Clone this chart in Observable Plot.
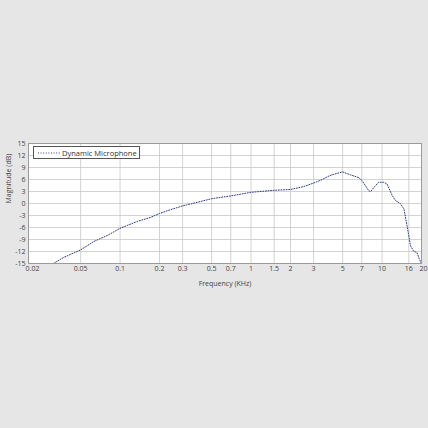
<!DOCTYPE html>
<html>
<head>
<meta charset="utf-8">
<script src="https://cdn.jsdelivr.net/npm/d3@7"></script>
<script src="https://cdn.jsdelivr.net/npm/@observablehq/plot@0.6"></script>
<style>
html, body { margin: 0; padding: 0; background: #e6e6e6; }
#wrap { position: relative; width: 428px; height: 428px; font-family: "Open Sans", sans-serif; }
#legend { position: absolute; left: 33px; top: 146px; width: 107px; height: 13px; border: 1px solid #555; background: #fff; box-sizing: border-box; font-size: 7.5px; color: #333; display: flex; align-items: center; }
#legend svg { margin-left: 4px; margin-right: 2px; }
</style>
</head>
<body>
<div id="wrap"></div>
<script>
const seriesName = "Dynamic Microphone";
const freq = [0.031, 0.037, 0.05, 0.063, 0.08, 0.1, 0.135, 0.17, 0.2, 0.24, 0.3, 0.4, 0.5, 0.7, 1, 1.5, 2, 2.5, 3, 3.5, 4, 4.5, 5, 5.7, 6.6, 7.05, 7.9, 8.2, 8.8, 9.4, 10.3, 10.9, 12.0, 12.7, 13.8, 14.7, 15.6, 16.5, 17.4, 18.5, 19.1, 19.8];
const magnitude = [-15, -13.5, -11.6, -9.5, -8.0, -6.2, -4.5, -3.5, -2.5, -1.6, -0.6, 0.4, 1.2, 1.9, 2.8, 3.3, 3.5, 4.2, 5.1, 6.0, 7.0, 7.5, 7.9, 7.2, 6.5, 5.7, 3.2, 3.0, 4.3, 5.3, 5.3, 4.9, 1.9, 0.7, 0.0, -1.4, -6.0, -10.6, -11.9, -12.3, -13.6, -14.8];
const xTicks = [0.02, 0.05, 0.1, 0.2, 0.3, 0.5, 0.7, 1, 1.5, 2, 3, 5, 7, 10, 16, 20];
const yTicks = [-15, -12, -9, -6, -3, 0, 3, 6, 9, 12, 15];
const xLabel = "Frequency (KHz)";
const yLabel = "Magnitude (dB)";

const data = freq.map((f, i) => ({f, m: magnitude[i]}));
const lineColor = "#2e3d86";
const inner = xTicks.slice(1, -1);

const chart = Plot.plot({
  width: 428,
  height: 428,
  marginLeft: 28,
  marginRight: 7,
  marginTop: 143,
  marginBottom: 165,
  style: {background: "transparent", fontFamily: "Open Sans, sans-serif", fontSize: "7px", color: "#444"},
  x: {type: "log", domain: [0.02, 20], label: null, axis: null},
  y: {domain: [-15, 15], label: null, axis: null},
  marks: [
    Plot.frame({fill: "white"}),
    Plot.gridX(xTicks, {stroke: "#c8c8c8", strokeOpacity: 1, strokeWidth: 0.8}),
    Plot.gridY(yTicks, {stroke: "#c8c8c8", strokeOpacity: 1, strokeWidth: 0.8}),
    Plot.frame({stroke: "#9a9a9a", strokeWidth: 1}),
    Plot.text(inner, {x: d => d, frameAnchor: "bottom", dy: 7, text: d => String(d), fontSize: 7, fill: "#444"}),
    Plot.text(xTicks.slice(0, 1), {x: d => d, frameAnchor: "bottom", dy: 7, dx: 4, text: d => String(d), fontSize: 7, fill: "#444"}),
    Plot.text(xTicks.slice(-1), {x: d => d, frameAnchor: "bottom", dy: 7, dx: 2, text: d => String(d), fontSize: 7, fill: "#444"}),
    Plot.text(yTicks, {y: d => d, frameAnchor: "left", dx: -3, textAnchor: "end", text: d => String(d), fontSize: 7, fill: "#444"}),
    Plot.line(data, {x: "f", y: "m", stroke: lineColor, strokeWidth: 1, strokeDasharray: "1,1.6", clip: true}),
    Plot.text([xLabel], {frameAnchor: "bottom", dy: 22, text: d => d, fontSize: 7, fill: "#444"}),
    Plot.text([yLabel], {frameAnchor: "left", dx: -20, rotate: -90, text: d => d, fontSize: 7, fill: "#444"})
  ]
});

const wrap = document.getElementById("wrap");
wrap.appendChild(chart);
const legend = document.createElement("div");
legend.id = "legend";
legend.innerHTML = `<svg width="22" height="4"><line x1="0" y1="2" x2="22" y2="2" stroke="${lineColor}" stroke-width="1" stroke-dasharray="1,1.6"/></svg><span>${seriesName}</span>`;
wrap.appendChild(legend);
</script>
</body>
</html>
